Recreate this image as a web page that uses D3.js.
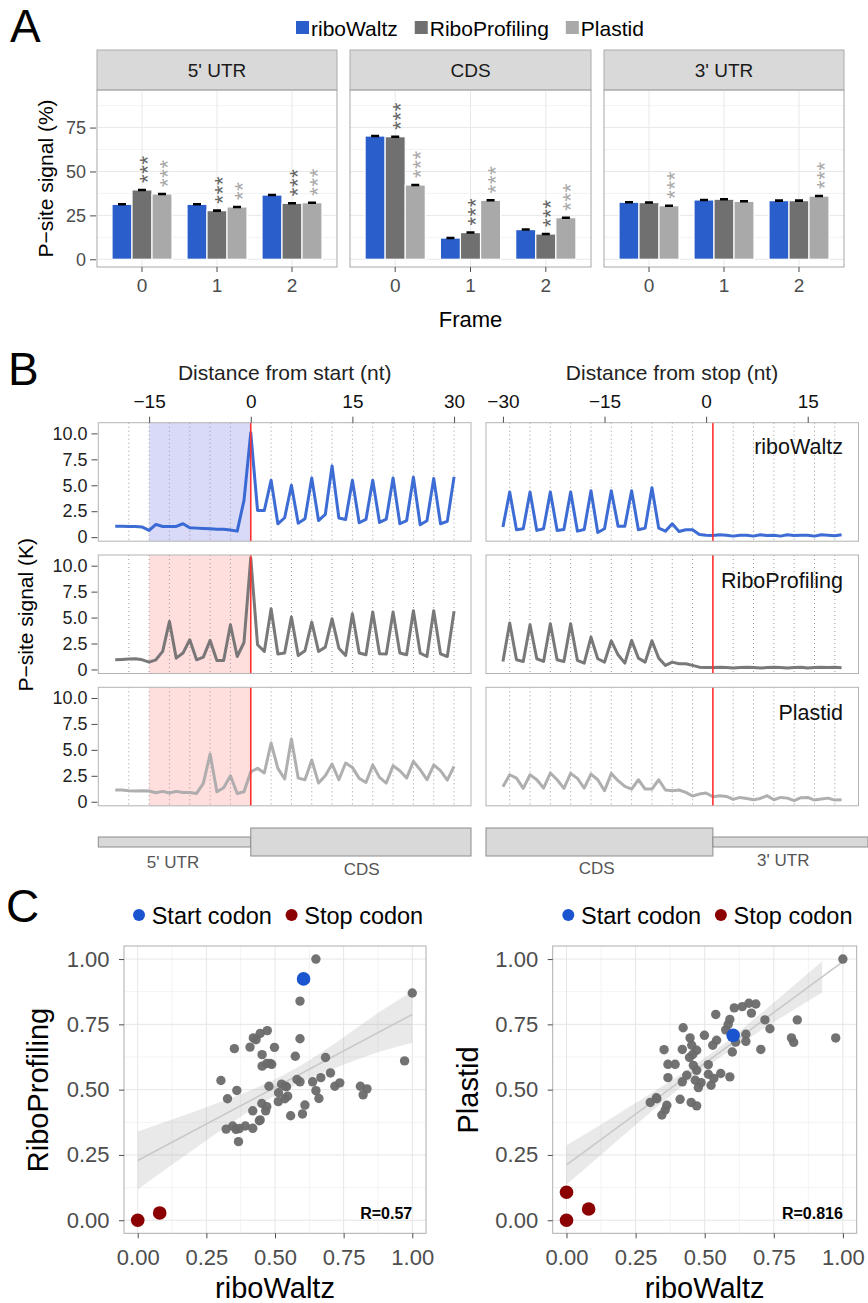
<!DOCTYPE html>
<html>
<head>
<meta charset="utf-8">
<script src="https://cdn.jsdelivr.net/npm/d3@7"></script>
<style>
  body { margin: 0; background: #fff; }
  svg { display: block; }
</style>
</head>
<body>
<script>
"use strict";

// ---------- Panel A: P-site signal per frame ----------
const tools = ["riboWaltz", "RiboProfiling", "Plastid"];
const regions = ["5' UTR", "CDS", "3' UTR"];
const frames = ["0", "1", "2"];
const frameTicks = [0, 25, 50, 75];

// one row per frame, values in tool order
const utr5Signal = [[31.3, 39.5, 37.2], [31.3, 27.7, 29.8], [36.6, 31.9, 32.2]];
const cdsSignal = [[70.2, 69.8, 42.3], [12.1, 15.2, 33.6], [16.9, 14.4, 23.7]];
const utr3Signal = [[32.5, 32.3, 30.5], [33.8, 34.2, 33.0], [33.4, 33.4, 36.0]];
const utr5Stars = [["", "***", "***"], ["", "***", "**"], ["", "***", "***"]];
const cdsStars = [["", "***", "***"], ["", "***", "***"], ["", "***", "***"]];
const utr3Stars = [["", "", "***"], ["", "", ""], ["", "", "***"]];
const signalSe = 0.35;

// ---------- Panel B: metaprofiles (K) ----------
const startPos = d3.range(-20, 31);
const stopPos = d3.range(-30, 21);
const startTicks = [-15, 0, 15, 30];
const stopTicks = [-30, -15, 0, 15];
const signalTicks = [0, 2.5, 5, 7.5, 10];

const startRiboWaltz = [1.06, 1.06, 1.03, 1.03, 0.97, 0.65, 1.23, 1.03, 1.03, 1.03, 1.29, 0.9, 0.87, 0.84, 0.8, 0.77, 0.77, 0.68, 0.58, 3.55,
  10.06, 2.58, 2.58, 5.48, 1.29, 1.87, 5.0, 1.35, 1.77, 5.71, 1.6, 2.19, 6.87, 1.84, 1.71, 5.48, 1.39, 1.71, 5.48, 1.42, 1.74,
  5.71, 1.29, 1.6, 5.77, 1.19, 1.58, 5.65, 1.29, 1.52, 5.81];
const startRiboProfiling = [0.93, 0.96, 1.0, 1.03, 0.93, 0.71, 0.93, 1.74, 4.63, 1.09, 1.58, 2.86, 0.93, 1.19, 2.8, 0.87, 0.87, 4.31, 1.25, 2.6,
  10.74, 2.38, 1.74, 5.85, 1.48, 1.58, 5.05, 1.35, 1.8, 4.56, 1.74, 2.15, 4.89, 2.05, 1.35, 5.37, 1.58, 1.41, 5.53, 1.51, 1.48,
  5.53, 1.58, 1.41, 5.66, 1.58, 1.25, 5.66, 1.51, 1.25, 5.6];
const startPlastid = [1.13, 1.13, 1.06, 1.03, 1.06, 1.03, 0.87, 1.0, 0.84, 1.0, 0.9, 0.9, 0.8, 1.77, 4.6, 0.96, 1.35, 2.51, 0.8, 0.96,
  2.89, 3.22, 2.77, 5.66, 3.22, 2.19, 6.05, 2.28, 2.12, 4.02, 1.8, 2.51, 3.63, 2.12, 3.73, 3.31, 2.25, 1.86, 3.54, 2.35, 1.8,
  3.47, 2.99, 2.28, 3.89, 3.09, 2.12, 3.54, 2.99, 2.09, 3.41];

const stopRiboWaltz = [0.97, 4.35, 0.71, 0.81, 4.35, 0.65, 0.81, 4.35, 0.65, 0.74, 4.35, 0.58, 0.74, 4.48, 0.45, 0.81, 4.48, 1.06, 1.06, 4.48,
  0.71, 0.87, 4.77, 0.87, 0.58, 1.29, 0.55, 0.71, 0.71, 0.26,
  0.19, 0.16, 0.23, 0.19, 0.1, 0.19, 0.19, 0.1, 0.23, 0.16, 0.19, 0.1, 0.23, 0.16, 0.19, 0.19, 0.1, 0.23, 0.19, 0.13, 0.23];
const stopRiboProfiling = [0.77, 4.47, 0.93, 0.77, 4.31, 1.03, 0.77, 4.4, 0.93, 0.77, 4.4, 0.87, 0.61, 3.12, 1.03, 0.71, 2.76, 1.41, 0.61, 2.8,
  1.09, 0.71, 2.76, 1.09, 0.39, 0.71, 0.55, 0.55, 0.39, 0.22,
  0.19, 0.19, 0.22, 0.19, 0.13, 0.19, 0.22, 0.19, 0.13, 0.19, 0.22, 0.19, 0.13, 0.19, 0.22, 0.13, 0.19, 0.22, 0.19, 0.22, 0.16];
const stopPlastid = [1.45, 2.6, 2.28, 1.29, 2.6, 2.12, 1.32, 2.77, 2.12, 1.29, 2.73, 2.25, 1.32, 2.67, 2.12, 1.06, 2.73, 2.03, 1.48, 1.22,
  2.12, 1.22, 1.22, 2.12, 1.13, 1.06, 1.13, 0.9, 0.55, 0.74,
  0.84, 0.48, 0.58, 0.51, 0.23, 0.42, 0.32, 0.19, 0.32, 0.58, 0.19, 0.42, 0.35, 0.1, 0.39, 0.42, 0.16, 0.26, 0.35, 0.16, 0.19];

// ---------- Panel C: codon correlations ----------
const corrTicks = [0, 0.25, 0.5, 0.75, 1];
const rwVsRp = [0.649, 0.591, 1.0, 0.591, 0.421, 0.431, 0.446, 0.472, 0.352, 0.409, 0.498, 0.453, 0.574, 0.453, 0.47, 0.482, 0.488,
  0.684, 0.972, 0.303, 0.361, 0.327, 0.478, 0.513, 0.524, 0.537, 0.542, 0.58, 0.591, 0.637, 0.667, 0.702, 0.718, 0.736,
  0.811, 0.835, 0.821, 0.649, 0.66, 0.512, 0.536, 0.546, 0.452, 0.47, 0.466, 0.419, 0.609, 0.6, 0.557, 0.443, 0.446,
  0.322, 0.346, 0.358, 0.37, 0.392, 0.419, 0.367];
const rpVsRw = [1.0, 0.839, 0.87, 0.695, 0.698, 0.691, 0.715, 0.726, 0.657, 0.663, 0.662, 0.634, 0.628, 0.59, 0.6, 0.6, 0.597,
  0.623, 0.61, 0.535, 0.497, 0.465, 0.513, 0.488, 0.521, 0.513, 0.511, 0.539, 0.53, 0.53, 0.546, 0.564, 0.513, 0.526,
  0.513, 0.503, 0.48, 0.496, 0.466, 0.454, 0.465, 0.475, 0.447, 0.435, 0.419, 0.419, 0.441, 0.407, 0.4, 0.381, 0.384,
  0.349, 0.361, 0.348, 0.351, 0.361, 0.352, 0.301];
const rpStart = [[0.604, 0.924]];
const rpStop = [[0, 0], [0.08, 0.028]];
const rpFit = [[0, 0.229], [1, 0.788]];
const rpBandX = [0, 0.125, 0.25, 0.375, 0.5, 0.625, 0.75, 0.875, 1];
const rpBandLo = [0.118, 0.212, 0.305, 0.396, 0.478, 0.543, 0.595, 0.643, 0.68];
const rpBandHi = [0.340, 0.386, 0.433, 0.482, 0.540, 0.613, 0.701, 0.793, 0.877];

const rwVsPl = [1.0, 0.607, 0.636, 0.66, 0.685, 0.669, 0.54, 0.591, 0.585, 0.718, 0.835, 0.736, 0.576, 0.422, 0.447, 0.499, 0.649,
  0.814, 0.822, 0.974, 0.543, 0.529, 0.612, 0.649, 0.703, 0.353, 0.419, 0.453, 0.471, 0.457, 0.445, 0.6, 0.367, 0.393,
  0.459, 0.513, 0.471, 0.367, 0.435, 0.419, 0.466, 0.487, 0.477, 0.513, 0.533, 0.558, 0.591, 0.523, 0.303, 0.327, 0.325,
  0.411, 0.451, 0.471, 0.363, 0.357, 0.345];
const plVsRw = [1.0, 0.813, 0.818, 0.831, 0.828, 0.793, 0.788, 0.769, 0.75, 0.767, 0.767, 0.733, 0.729, 0.737, 0.698, 0.708, 0.712,
  0.698, 0.681, 0.698, 0.689, 0.67, 0.682, 0.685, 0.654, 0.653, 0.654, 0.67, 0.651, 0.635, 0.623, 0.644, 0.597, 0.597,
  0.593, 0.596, 0.574, 0.546, 0.555, 0.53, 0.536, 0.527, 0.508, 0.559, 0.543, 0.562, 0.549, 0.517, 0.451, 0.465, 0.469,
  0.463, 0.451, 0.438, 0.44, 0.422, 0.403];
const plStart = [[0.603, 0.708]];
const plStop = [[0, 0.107], [0, 0], [0.08, 0.043]];
const plFit = [[0, 0.212], [1, 0.99]];
const plBandX = [0, 0.125, 0.25, 0.375, 0.5, 0.625, 0.75, 0.925];
const plBandLo = [0.137, 0.251, 0.365, 0.476, 0.581, 0.673, 0.758, 0.872];
const plBandHi = [0.287, 0.367, 0.449, 0.532, 0.621, 0.723, 0.834, 0.992];

// ---------- styles ----------
const toolColors = ["#2a5ecb", "#707070", "#a9a9a9"];
const lineColors = ["#2b5fd0", "#6e6e6e", "#a8a8a8"];
const starColors = ["#000", "#666666", "#a9a9a9"];
const FONT = '"Liberation Sans", Arial, Helvetica, sans-serif';

const svg = d3.select("body").append("svg")
  .attr("width", 868)
  .attr("height", 1303)
  .style("font-family", FONT);

function styleAxis(g, fontSize, color) {
  g.attr("font-family", null).attr("font-size", null);
  g.select(".domain").remove();
  g.selectAll(".tick line").attr("stroke", "#4d4d4d");
  g.selectAll(".tick text").attr("font-size", fontSize).attr("fill", color);
}

// Panel letters
[["A", 10, 42], ["B", 8, 385], ["C", 6, 922]].forEach(([t, x, y]) => {
  svg.append("text").attr("x", x).attr("y", y).attr("font-size", 46).text(t);
});

// ========== Panel A ==========
{
  // legend
  let lx = 296;
  tools.forEach((t, i) => {
    svg.append("rect").attr("x", lx).attr("y", 21).attr("width", 13).attr("height", 13)
      .attr("fill", toolColors[i]);
    const tx = svg.append("text").attr("x", lx + 15).attr("y", 35.5).attr("font-size", 21).text(t);
    lx += 15 + tx.node().getComputedTextLength() + 17;
  });

  const yA = d3.scaleLinear().domain([-4.4, 96.4]).range([267, 90]);
  const facetX = [[97, 337], [350, 591], [604, 844]];
  const regionSignal = [utr5Signal, cdsSignal, utr3Signal];
  const regionStars = [utr5Stars, cdsStars, utr3Stars];
  const starSize = 22;

  regions.forEach((region, r) => {
    const [x0, x1] = facetX[r];
    const x = d3.scaleBand().domain(frames).range([x0, x1]).paddingInner(0).paddingOuter(0.1);
    const xTool = d3.scaleBand().domain(tools).range([0, x.bandwidth() * 0.8]);
    const g = svg.append("g");

    // strip
    g.append("rect").attr("x", x0).attr("y", 50).attr("width", x1 - x0).attr("height", 40)
      .attr("fill", "#d9d9d9").attr("stroke", "#ababab");
    g.append("text").attr("x", (x0 + x1) / 2).attr("y", 77).attr("text-anchor", "middle")
      .attr("font-size", 19).attr("fill", "#1a1a1a").text(region);

    // grid
    [12.5, 37.5, 62.5, 87.5].forEach((v) => {
      g.append("line").attr("x1", x0).attr("x2", x1).attr("y1", yA(v)).attr("y2", yA(v))
        .attr("stroke", "#f3f3f3");
    });
    frameTicks.forEach((v) => {
      g.append("line").attr("x1", x0).attr("x2", x1).attr("y1", yA(v)).attr("y2", yA(v))
        .attr("stroke", "#e8e8e8");
    });
    frames.forEach((f) => {
      const cx = x(f) + x.bandwidth() / 2;
      g.append("line").attr("x1", cx).attr("x2", cx).attr("y1", 90).attr("y2", 267)
        .attr("stroke", "#e8e8e8");
    });

    // bars
    frames.forEach((f, fi) => {
      const left = x(f) + x.bandwidth() * 0.1;
      tools.forEach((t, ti) => {
        const v = regionSignal[r][fi][ti];
        const bx = left + xTool(t);
        const bw = xTool.bandwidth();
        g.append("rect").attr("x", bx).attr("y", yA(v)).attr("width", bw).attr("height", yA(0) - yA(v))
          .attr("fill", toolColors[ti]).attr("stroke", "#fff").attr("stroke-width", 1.2);
        // error bar
        const cx = bx + bw / 2;
        g.append("path")
          .attr("d", `M${cx - 4},${yA(v - signalSe)}H${cx + 4}M${cx - 4},${yA(v + signalSe)}H${cx + 4}M${cx},${yA(v - signalSe)}V${yA(v + signalSe)}`)
          .attr("stroke", "#000").attr("stroke-width", 1.3).attr("fill", "none");
        // significance stars, written bottom-to-top
        const stars = regionStars[r][fi][ti];
        if (stars) {
          g.append("text")
            .attr("transform", `translate(${cx + 0.57 * starSize},${yA(v) - 7}) rotate(-90)`)
            .attr("font-size", starSize).attr("letter-spacing", 0.7)
            .attr("fill", starColors[ti]).text(stars);
        }
      });
    });

    g.append("rect").attr("x", x0).attr("y", 90).attr("width", x1 - x0).attr("height", 177)
      .attr("fill", "none").attr("stroke", "#a8a8a8");

    const ax = g.append("g").attr("transform", "translate(0,267)")
      .call(d3.axisBottom(x).tickSize(5).tickPadding(7));
    styleAxis(ax, 19, "#4d4d4d");

    if (r === 0) {
      const ay = g.append("g").attr("transform", `translate(${x0 - 1},0)`)
        .call(d3.axisLeft(yA).tickValues(frameTicks).tickSize(6).tickPadding(4));
      styleAxis(ay, 18, "#4d4d4d");
    }
  });

  svg.append("text").attr("transform", "translate(53,178.5) rotate(-90)").attr("text-anchor", "middle")
    .attr("font-size", 21).text("P\u2212site signal (%)");
  svg.append("text").attr("x", 470.5).attr("y", 327).attr("text-anchor", "middle")
    .attr("font-size", 22).text("Frame");
}

// ========== Panel B ==========
{
  const rowTop = [422.7, 555, 687.3];
  const rowH = 118.5;
  const startX = d3.scaleLinear().domain([-22.5, 32.5]).range([98.3, 471]);
  const stopX = d3.scaleLinear().domain([-32.5, 22.5]).range([486, 858.5]);
  const startSeries = [startRiboWaltz, startRiboProfiling, startPlastid];
  const stopSeries = [stopRiboWaltz, stopRiboProfiling, stopPlastid];
  const shadeColors = ["#d9d9f8", "#ffdede", "#ffdede"];

  function drawProfile(x, pos, values, top, toolIdx, guideFrom, guideTo, redAt, shade) {
    const y = d3.scaleLinear().domain([-0.39, 11.03]).range([top + rowH, top]);
    const [x0, x1] = x.range();
    const g = svg.append("g");
    g.append("rect").attr("x", x0).attr("y", top).attr("width", x1 - x0).attr("height", rowH).attr("fill", "#fff");
    if (shade) {
      g.append("rect").attr("x", x(shade[0])).attr("y", top).attr("width", x(shade[1]) - x(shade[0]))
        .attr("height", rowH).attr("fill", shadeColors[toolIdx]);
    }
    d3.range(guideFrom, guideTo + 1, 3).filter((d) => d !== redAt).forEach((d) => {
      g.append("line").attr("x1", x(d)).attr("x2", x(d)).attr("y1", top).attr("y2", top + rowH)
        .attr("stroke", "#9a9a9a").attr("stroke-width", 1).attr("stroke-dasharray", "1,3");
    });
    const line = d3.line().x((d, i) => x(pos[i])).y((d) => y(d));
    g.append("path").datum(values).attr("d", line).attr("fill", "none")
      .attr("stroke", lineColors[toolIdx]).attr("stroke-width", 3).attr("stroke-opacity", 0.92)
      .attr("stroke-linejoin", "round");
    g.append("line").attr("x1", x(redAt)).attr("x2", x(redAt)).attr("y1", top).attr("y2", top + rowH)
      .attr("stroke", "#ff3030").attr("stroke-width", 1.6);
    g.append("rect").attr("x", x0).attr("y", top).attr("width", x1 - x0).attr("height", rowH)
      .attr("fill", "none").attr("stroke", "#b3b3b3");
    return y;
  }

  tools.forEach((t, i) => {
    const y = drawProfile(startX, startPos, startSeries[i], rowTop[i], i, -18, 30, 0, [-15, 0]);
    drawProfile(stopX, stopPos, stopSeries[i], rowTop[i], i, -29, 19, 1, null);

    const ay = svg.append("g").attr("transform", "translate(97.5,0)")
      .call(d3.axisLeft(y).tickValues(signalTicks).tickSize(6).tickPadding(4)
        .tickFormat((d) => (d === 0 ? "0" : d3.format(".1f")(d))));
    styleAxis(ay, 18, "#222");

    svg.append("text").attr("x", 843).attr("y", [454, 588, 720][i]).attr("text-anchor", "end")
      .attr("font-size", 21.5).attr("fill", "#111").text(t);
  });

  const axStart = svg.append("g").attr("transform", `translate(0,${rowTop[0]})`)
    .call(d3.axisTop(startX).tickValues(startTicks).tickSize(6).tickPadding(9));
  styleAxis(axStart, 19, "#111");
  const axStop = svg.append("g").attr("transform", `translate(0,${rowTop[0]})`)
    .call(d3.axisTop(stopX).tickValues(stopTicks).tickSize(6).tickPadding(9));
  styleAxis(axStop, 19, "#111");

  svg.append("text").attr("x", 284.7).attr("y", 379.5).attr("text-anchor", "middle")
    .attr("font-size", 21).attr("fill", "#222").text("Distance from start (nt)");
  svg.append("text").attr("x", 672).attr("y", 379.5).attr("text-anchor", "middle")
    .attr("font-size", 21).attr("fill", "#222").text("Distance from stop (nt)");
  svg.append("text").attr("transform", "translate(33,614.7) rotate(-90)").attr("text-anchor", "middle")
    .attr("font-size", 21).text("P\u2212site signal (K)");

  // transcript sketch
  const geneFill = "#d9d9d9";
  const geneStroke = "#8c8c8c";
  const box = (x0, x1, y0, y1) => svg.append("rect").attr("x", x0).attr("y", y0).attr("width", x1 - x0)
    .attr("height", y1 - y0).attr("fill", geneFill).attr("stroke", geneStroke);
  box(startX.range()[0], startX(0), 837, 847);
  box(startX(0), startX.range()[1], 828, 856);
  box(stopX.range()[0], stopX(1), 828, 856);
  box(stopX(1), 868, 837, 847);
  [["5' UTR", 173, 868], ["CDS", 361.7, 875.4], ["CDS", 596.7, 874.4], ["3' UTR", 783.3, 866]].forEach(([t, x, y]) => {
    svg.append("text").attr("x", x).attr("y", y).attr("text-anchor", "middle")
      .attr("font-size", 17).attr("fill", "#555").text(t);
  });
}

// ========== Panel C ==========
function scatter(o) {
  const x = d3.scaleLinear().domain([-0.05, 1.05]).range([o.left, o.right]);
  const y = d3.scaleLinear().domain([-0.05, 1.05]).range([1233.3, 946]);
  const g = svg.append("g");
  const [x0, x1] = x.range();
  const [yb, yt] = y.range();

  [0.125, 0.375, 0.625, 0.875].forEach((v) => {
    g.append("line").attr("x1", x(v)).attr("x2", x(v)).attr("y1", yt).attr("y2", yb).attr("stroke", "#f3f3f3");
    g.append("line").attr("x1", x0).attr("x2", x1).attr("y1", y(v)).attr("y2", y(v)).attr("stroke", "#f3f3f3");
  });
  corrTicks.forEach((v) => {
    g.append("line").attr("x1", x(v)).attr("x2", x(v)).attr("y1", yt).attr("y2", yb).attr("stroke", "#e6e6e6");
    g.append("line").attr("x1", x0).attr("x2", x1).attr("y1", y(v)).attr("y2", y(v)).attr("stroke", "#e6e6e6");
  });

  const area = d3.area().x((d, i) => x(o.bandX[i])).y0((d, i) => y(o.bandLo[i])).y1((d, i) => y(o.bandHi[i]))
    .curve(d3.curveMonotoneX);
  g.append("path").datum(o.bandX).attr("d", area).attr("fill", "#999").attr("fill-opacity", 0.22);
  g.append("path").datum(o.fit).attr("d", d3.line().x((d) => x(d[0])).y((d) => y(d[1])))
    .attr("stroke", "#c9c9c9").attr("stroke-width", 1.6).attr("fill", "none");

  o.xs.forEach((v, i) => {
    g.append("circle").attr("cx", x(v)).attr("cy", y(o.ys[i])).attr("r", 4.7)
      .attr("fill", "#6a6a6a").attr("fill-opacity", 0.95);
  });
  o.starts.forEach((d) => {
    g.append("circle").attr("cx", x(d[0])).attr("cy", y(d[1])).attr("r", 6.8).attr("fill", "#1a55cf");
  });
  o.stops.forEach((d) => {
    g.append("circle").attr("cx", x(d[0])).attr("cy", y(d[1])).attr("r", 6.8).attr("fill", "#8b0000");
  });

  g.append("rect").attr("x", x0).attr("y", yt).attr("width", x1 - x0).attr("height", yb - yt)
    .attr("fill", "none").attr("stroke", "#adadad");

  g.append("text").attr("x", x(1)).attr("y", 1219).attr("text-anchor", "end").attr("font-size", 16)
    .attr("font-weight", "bold").text(o.rLabel);

  const ax = g.append("g").attr("transform", `translate(0,${yb})`)
    .call(d3.axisBottom(x).tickValues(corrTicks).tickFormat(d3.format(".2f")).tickSize(5).tickPadding(11));
  styleAxis(ax, 22, "#4d4d4d");
  const ay = g.append("g").attr("transform", `translate(${x0},0)`)
    .call(d3.axisLeft(y).tickValues(corrTicks).tickFormat(d3.format(".2f")).tickSize(5).tickPadding(9.5));
  styleAxis(ay, 22, "#4d4d4d");

  g.append("text").attr("x", (x0 + x1) / 2).attr("y", 1298).attr("text-anchor", "middle")
    .attr("font-size", 29).text("riboWaltz");
  g.append("text").attr("transform", `translate(${o.yTitleX},1090) rotate(-90)`).attr("text-anchor", "middle")
    .attr("font-size", 29).text(o.yTitle);

  // legend
  let lx = o.legendX;
  [["Start codon", "#1a55cf"], ["Stop codon", "#8b0000"]].forEach(([t, c]) => {
    g.append("circle").attr("cx", lx).attr("cy", 915).attr("r", 6).attr("fill", c);
    const tx = g.append("text").attr("x", lx + 12.7).attr("y", 923.7).attr("font-size", 23.5).text(t);
    lx += 12.7 + tx.node().getComputedTextLength() + 19.7;
  });
}

scatter({
  left: 124, right: 426, xs: rwVsRp, ys: rpVsRw, starts: rpStart, stops: rpStop,
  fit: rpFit, bandX: rpBandX, bandLo: rpBandLo, bandHi: rpBandHi,
  rLabel: "R=0.57", yTitle: "RiboProfiling", yTitleX: 48, legendX: 139
});
scatter({
  left: 552.7, right: 856.7, xs: rwVsPl, ys: plVsRw, starts: plStart, stops: plStop,
  fit: plFit, bandX: plBandX, bandLo: plBandLo, bandHi: plBandHi,
  rLabel: "R=0.816", yTitle: "Plastid", yTitleX: 478, legendX: 568.3
});
</script>
</body>
</html>
